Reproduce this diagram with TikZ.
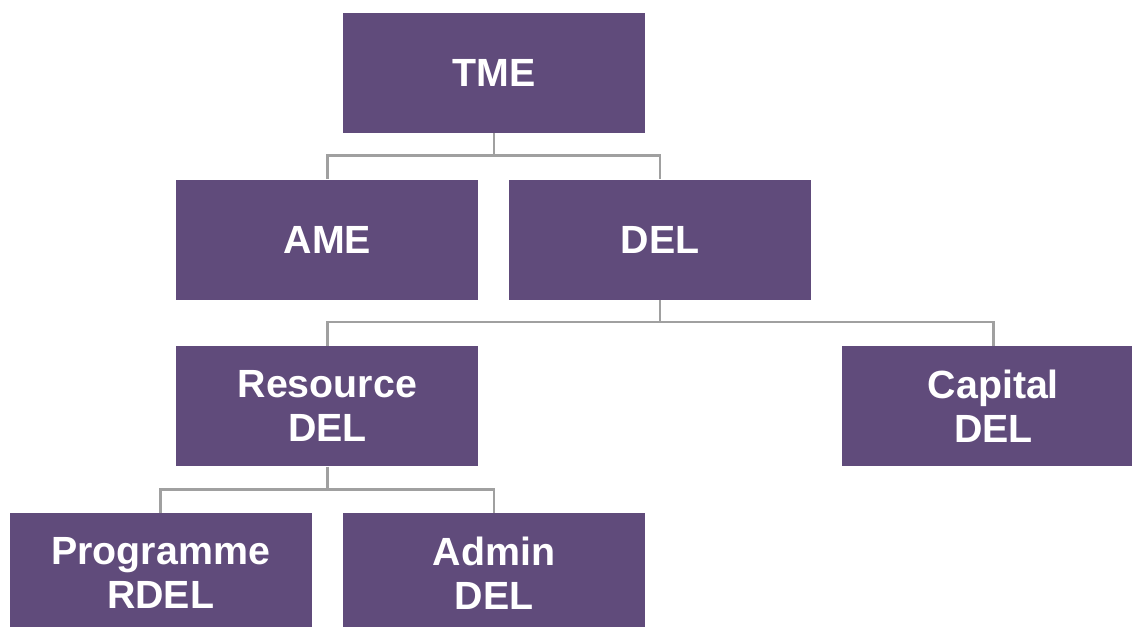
\documentclass[tikz,border=0pt]{standalone}
\usepackage{fontspec}
\setmainfont{Liberation Sans}
\usetikzlibrary{positioning}
\definecolor{delpurple}{HTML}{604B7B}
\definecolor{linkgray}{HTML}{A0A0A0}

\begin{document}
\begin{tikzpicture}[x=0.75pt, y=-0.75pt, on grid,
unit/.style={rectangle, fill=delpurple, text=white, font=\fontsize{29.5}{33}\selectfont\bfseries,
  align=center, minimum width=226.5pt, minimum height=90pt, inner sep=0pt},
link/.style={draw=linkgray, line width=1.9pt}
]
\clip (0,0) rectangle (1132,627);
\node[unit] (TME) at (494,73) {TME};
\node[unit] (AME) [below left = 125pt and 125pt of TME] {AME};
\node[unit] (DEL) [below right = 125pt and 124.5pt of TME] {DEL};
\node[unit] (RDEL) [below = 125pt of AME] {Resource\\DEL};
\node[unit] (CDEL) [below right = 125pt and 250pt of DEL] {Capital\\DEL};
\node[unit] (PRDEL) [below left = 125pt and 125pt of RDEL] {Programme\\RDEL};
\node[unit] (ADEL) [below right = 125pt and 125pt of RDEL] {Admin\\DEL};
\draw[link] (TME.south) -- ++(0pt,-16.5pt) coordinate (t1) -| (AME.north);
\draw[link] (t1) -| (DEL.north);
\draw[link] (DEL.south) -- ++(0pt,-16.5pt) coordinate (d1) -| (RDEL.north);
\draw[link] (d1) -| (CDEL.north);
\draw[link] (RDEL.south) -- ++(0pt,-17pt) coordinate (r1) -| (PRDEL.north);
\draw[link] (r1) -| (ADEL.north);
\end{tikzpicture}
\end{document}
